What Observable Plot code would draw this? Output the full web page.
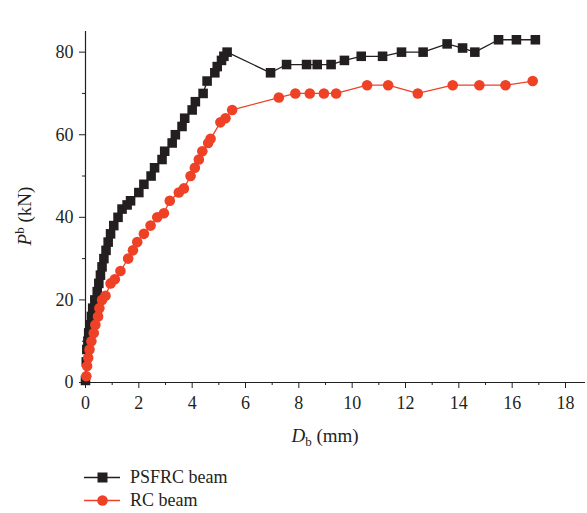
<!DOCTYPE html>
<html>
<head>
<meta charset="utf-8">
<script src="https://cdn.jsdelivr.net/npm/d3@7"></script>
<script src="https://cdn.jsdelivr.net/npm/@observablehq/plot@0.6"></script>
<style>
  body { margin: 0; background: #fff; }
  #chart { width: 587px; }
  .legend { font-family: "Liberation Serif", "DejaVu Serif", serif; font-size: 18px; color: #231f20; margin-left: 84px; margin-top: 16px; }
  .legend div { display: flex; align-items: center; height: 23px; }
  .legend svg { margin-right: 10px; }
</style>
</head>
<body>
<div id="chart"></div>
<script>
// PSFRC beam: displacement D_b (mm) and load P^b (kN)
const psfrcD = [0, 0.03, 0.05, 0.09, 0.12, 0.19, 0.22, 0.27, 0.35, 0.44, 0.5, 0.56, 0.62, 0.69, 0.77, 0.85, 0.94, 1.06, 1.22, 1.37, 1.56, 1.69, 2.0, 2.19, 2.46, 2.59, 2.87, 2.97, 3.25, 3.37, 3.62, 3.72, 4.0, 4.12, 4.41, 4.56, 4.85, 4.94, 5.1, 5.19, 5.31,
  6.94, 7.54, 8.29, 8.69, 9.21, 9.71, 10.34, 11.14, 11.85, 12.66, 13.56, 14.14, 14.6, 15.49, 16.16, 16.87];
const psfrcP = [0.5, 5, 8, 10, 12, 14, 16, 18, 20, 22, 24, 26, 28, 30, 32, 34, 36, 38, 40, 42, 43, 44, 46, 48, 50, 52, 54, 56, 58, 60, 62, 64, 66, 68, 70, 73, 75, 76.5, 78, 79, 80,
  75, 77, 77, 77, 77, 78, 79, 79, 80, 80, 82, 81, 80, 83, 83, 83];
// RC beam
const rcD = [0.03, 0.06, 0.1, 0.15, 0.22, 0.31, 0.37, 0.47, 0.52, 0.62, 0.75, 0.94, 1.1, 1.31, 1.6, 1.78, 1.94, 2.19, 2.44, 2.69, 2.94, 3.16, 3.5, 3.69, 3.94, 4.1, 4.25, 4.38, 4.6, 4.69, 5.06, 5.25, 5.5,
  7.25, 7.87, 8.41, 8.94, 9.4, 10.56, 11.35, 12.46, 13.77, 14.77, 15.75, 16.77];
const rcP = [1.5, 4, 6, 8, 10, 12, 14, 16, 18, 20, 21, 24, 25, 27, 30, 32, 34, 36, 38, 40, 41, 44, 46, 47, 50, 52, 54, 56, 58, 59, 63, 64, 66,
  69, 70, 70, 70, 70, 72, 72, 70, 72, 72, 72, 73];
const seriesNames = ["PSFRC beam", "RC beam"];
const seriesColors = ["#231f20", "#ee4126"];
const xMajor = [0, 2, 4, 6, 8, 10, 12, 14, 16, 18];
const xMinor = [1, 3, 5, 7, 9, 11, 13, 15, 17];
const yMajor = [0, 20, 40, 60, 80];
const yMinor = [10, 30, 50, 70];

const psfrc = psfrcD.map((d, i) => ({D: d, P: psfrcP[i]}));
const rc = rcD.map((d, i) => ({D: d, P: rcP[i]}));

const font = "Liberation Serif, DejaVu Serif, serif";
const ink = "#231f20";

const plot = Plot.plot({
  width: 587,
  height: 450,
  marginLeft: 85,
  marginRight: 2,
  marginTop: 31,
  marginBottom: 68,
  style: {fontFamily: font, fontSize: "18px", color: ink, background: "#fff"},
  x: {domain: [0, 18.75], label: null},
  y: {domain: [0, 85], label: null},
  marks: [
    Plot.axisX({ticks: xMinor, tickSize: 3, tickFormat: () => "", stroke: ink}),
    Plot.axisY({ticks: yMinor, tickSize: 3, tickFormat: () => "", stroke: ink}),
    Plot.axisX({ticks: xMajor, tickSize: 6, tickPadding: 8, fontSize: 18, stroke: ink, fill: ink}),
    Plot.axisY({ticks: yMajor, tickSize: 6, tickPadding: 6, fontSize: 18, stroke: ink, fill: ink}),
    Plot.ruleY([0], {stroke: ink, strokeWidth: 1.2}),
    Plot.ruleX([0], {stroke: ink, strokeWidth: 1.2}),
    Plot.line(psfrc, {x: "D", y: "P", stroke: seriesColors[0], strokeWidth: 1.3}),
    Plot.dot(psfrc, {x: "D", y: "P", symbol: "square", r: 5.4, fill: seriesColors[0], stroke: "none"}),
    Plot.line(rc, {x: "D", y: "P", stroke: seriesColors[1], strokeWidth: 1.3}),
    Plot.dot(rc, {x: "D", y: "P", symbol: "circle", r: 5.3, fill: seriesColors[1], stroke: "none"})
  ]
});

const svg = d3.select(plot);
// Axis titles with sub/superscripts
const yl = svg.append("text")
  .attr("transform", "translate(31,216) rotate(-90)")
  .attr("text-anchor", "middle")
  .attr("font-family", font).attr("font-size", 19).attr("fill", ink);
yl.append("tspan").attr("font-style", "italic").text("P");
yl.append("tspan").attr("font-size", 13).attr("dy", -7).text("b");
yl.append("tspan").attr("dy", 7).text(" (kN)");

const xl = svg.append("text")
  .attr("x", 325).attr("y", 442)
  .attr("text-anchor", "middle")
  .attr("font-family", font).attr("font-size", 19).attr("fill", ink);
xl.append("tspan").attr("font-style", "italic").text("D");
xl.append("tspan").attr("font-size", 13).attr("dy", 4).text("b");
xl.append("tspan").attr("dy", -4).text(" (mm)");

document.getElementById("chart").appendChild(plot);

// Legend
const legend = document.createElement("div");
legend.className = "legend";
seriesNames.forEach((name, i) => {
  const row = document.createElement("div");
  const marker = i === 0
    ? `<rect x="13.5" y="5.5" width="10" height="10" fill="${seriesColors[i]}"/>`
    : `<circle cx="18.5" cy="10.5" r="5.3" fill="${seriesColors[i]}"/>`;
  row.innerHTML = `<svg width="36" height="21"><line x1="0" x2="36" y1="10.5" y2="10.5" stroke="${seriesColors[i]}" stroke-width="1.3"/>${marker}</svg><span>${name}</span>`;
  legend.appendChild(row);
});
document.getElementById("chart").appendChild(legend);
</script>
</body>
</html>
